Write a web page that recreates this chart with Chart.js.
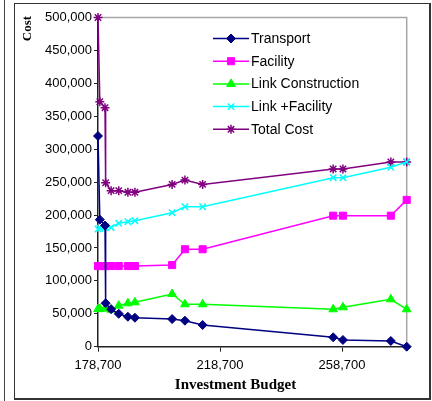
<!DOCTYPE html>
<html>
<head>
<meta charset="utf-8">
<script src="https://cdn.jsdelivr.net/npm/chart.js@4/dist/chart.umd.js"></script>
<style>
  html, body { margin: 0; padding: 0; background: #fff; }
  body { width: 432px; height: 401px; position: relative; overflow: hidden; }
  #edge { position: absolute; left: 4px; top: 0; width: 1px; height: 401px; background: #444; }
  #frame { position: absolute; left: 14px; top: 3px; width: 414px; height: 394px;
           border-style: solid; border-color: #333; border-width: 1px 2px 2px 1px; }
  #wrap { position: absolute; left: 0; top: 0; width: 432px; height: 401px; }
</style>
</head>
<body>
<div id="edge"></div>
<div id="frame"></div>
<div id="wrap"><canvas id="costChart" width="432" height="401"></canvas></div>
<script>
// budget levels (x) and the cost of each component at that budget
const budget = [178700, 179300, 181000, 181200, 183000, 185500, 188500, 190800,
                203000, 207200, 213000, 255800, 259000, 274700, 279900];
const transport = [320000, 193000, 184000, 66000, 57000, 50000, 45500, 44000,
                   42000, 39500, 33000, 14300, 10200, 8700, 0];
const facility = [122500, 122500, 122500, 122500, 122500, 122500, 122500, 122500,
                  124000, 148000, 148000, 199000, 199000, 199000, 223000];
const linkConstruction = [57000, 57300, 58300, 58000, 56200, 62300, 65900, 67400,
                          80000, 64400, 64400, 56800, 59800, 72000, 56800];
const linkFacility = [178800, 180000, 180800, 182000, 181000, 187400, 189900, 191400,
                      203500, 212600, 212600, 256700, 256700, 272500, 280500];
const totalCost = [500000, 372000, 363000, 249000, 237000, 237000, 234500, 234500,
                   246500, 253000, 246500, 270000, 270000, 280500, 280500];

const seriesNames = ['Transport', 'Facility', 'Link Construction', 'Link +Facility', 'Total Cost'];
const budgetTicks = [178700, 218700, 258700];
const costTicks = { min: 0, max: 500000, step: 50000 };

const toPoints = values => values.map((v, i) => ({ x: budget[i], y: v }));

const makeSeries = (label, values, color, pointStyle, radius, markerLine) => ({
  label,
  data: toPoints(values),
  borderColor: color,
  backgroundColor: color,
  borderWidth: 1.5,
  pointStyle,
  pointRadius: radius,
  pointHoverRadius: radius,
  pointBorderWidth: markerLine,
  pointBackgroundColor: color,
  pointBorderColor: color,
  tension: 0,
  clip: false
});

// frame of the plot area: grey on top and right
const plotFrame = {
  id: 'plotFrame',
  beforeDatasetsDraw(chart) {
    const { ctx, chartArea: a } = chart;
    ctx.save();
    ctx.strokeStyle = '#a6a6a6';
    ctx.lineWidth = 1.5;
    ctx.beginPath();
    ctx.moveTo(a.left, a.top);
    ctx.lineTo(a.right, a.top);
    ctx.lineTo(a.right, a.bottom);
    ctx.stroke();
    ctx.restore();
  }
};

// legend inside the plot: line + marker + label
const sideLegend = {
  id: 'sideLegend',
  afterDraw(chart) {
    const { ctx } = chart;
    ctx.save();
    chart.data.datasets.forEach((ds, i) => {
      const y = 38.5 + i * 22.7;
      ctx.strokeStyle = ds.borderColor;
      ctx.lineWidth = ds.borderWidth;
      ctx.beginPath();
      ctx.moveTo(213, y);
      ctx.lineTo(249, y);
      ctx.stroke();
      ctx.fillStyle = ds.backgroundColor;
      ctx.lineWidth = ds.pointBorderWidth;
      Chart.helpers.drawPoint(ctx, {
        pointStyle: ds.pointStyle, radius: ds.pointRadius, rotation: 0, borderWidth: ds.pointBorderWidth
      }, 231, y);
      ctx.fillStyle = '#000';
      ctx.font = '14px "Liberation Sans", Arial, sans-serif';
      ctx.textAlign = 'left';
      ctx.textBaseline = 'middle';
      ctx.fillText(ds.label, 251, y + 0.5);
    });
    ctx.restore();
  }
};

// axis titles
const axisTitles = {
  id: 'axisTitles',
  afterDraw(chart) {
    const { ctx } = chart;
    ctx.save();
    ctx.fillStyle = '#000';
    ctx.textAlign = 'center';
    ctx.textBaseline = 'alphabetic';
    ctx.font = 'bold 15px "Liberation Serif", "Times New Roman", serif';
    ctx.fillText('Investment Budget', 235.5, 389);
    ctx.translate(31, 28.5);
    ctx.rotate(-Math.PI / 2);
    ctx.font = 'bold 13px "Liberation Serif", "Times New Roman", serif';
    ctx.fillText('Cost', 0, 0);
    ctx.restore();
  }
};

const tickFont = { family: '"Liberation Sans", Arial, sans-serif', size: 13 };
const fmt = v => Number(v).toLocaleString('en-US');

new Chart(document.getElementById('costChart'), {
  type: 'line',
  data: {
    datasets: [
      makeSeries(seriesNames[0], transport, '#000080', 'rectRot', 4.5, 1),
      makeSeries(seriesNames[1], facility, '#ff00ff', 'rect', 5, 1),
      makeSeries(seriesNames[2], linkConstruction, '#00ff00', 'triangle', 5, 1),
      makeSeries(seriesNames[3], linkFacility, '#00ffff', 'crossRot', 4.5, 1.5),
      makeSeries(seriesNames[4], totalCost, '#800080', 'star', 4.5, 1.5)
    ]
  },
  options: {
    responsive: false,
    animation: false,
    devicePixelRatio: 1,
    layout: { padding: { left: 0, top: 17.5, right: 25.3, bottom: 0 } },
    plugins: { legend: { display: false }, tooltip: { enabled: false } },
    scales: {
      x: {
        type: 'linear',
        min: budget[0],
        max: budget[budget.length - 1],
        afterBuildTicks: s => { s.ticks = budgetTicks.map(v => ({ value: v })); },
        afterFit: s => { s.height = 54.3; },
        ticks: { callback: fmt, font: tickFont, color: '#000', padding: 6, maxRotation: 0, autoSkip: false },
        grid: { drawOnChartArea: false, drawTicks: true, tickLength: 5, color: '#222', lineWidth: 1 },
        border: { color: '#222', width: 1.5 }
      },
      y: {
        min: costTicks.min,
        max: costTicks.max,
        afterFit: s => { s.width = 98; },
        ticks: { stepSize: costTicks.step, callback: fmt, font: tickFont, color: '#000', padding: 2 },
        grid: { drawOnChartArea: false, drawTicks: true, tickLength: 4, color: '#222', lineWidth: 1 },
        border: { color: '#222', width: 1.5 }
      }
    }
  },
  plugins: [plotFrame, sideLegend, axisTitles]
});
</script>
</body>
</html>
